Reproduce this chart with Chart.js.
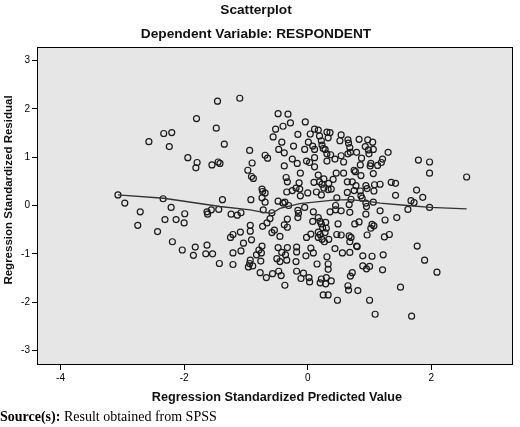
<!DOCTYPE html>
<html>
<head>
<meta charset="utf-8">
<script src="https://cdn.jsdelivr.net/npm/chart.js@4.4.0/dist/chart.umd.min.js"></script>
<style>
    html, body { margin: 0; padding: 0; background: #fff; }
    #wrap { width: 520px; height: 427px; }
</style>
</head>
<body>
<div id="wrap"><canvas id="residChart" width="520" height="427"></canvas></div>
<script>
// Values
const predicted = [
    -1.46, -1.10, -1.80, -1.48, -2.33, -2.20, -2.57, -2.24, -1.35, -1.94,
    -1.79, -1.81, -1.55, -1.45, -1.42, -0.94, -0.90, -0.69, -0.65, -0.97,
    -0.91, -0.88, -0.74, -0.73, -0.69, -0.74, -0.69, -0.92, -1.38, -3.07,
    -2.96, -2.34, -2.21, -2.71, -1.99, -1.63, -1.62, -1.56, -1.44, -1.24,
    -1.14, -1.08, -0.72, -0.58, -0.48, -0.32, -0.52, -0.40, -0.28, -0.04,
    -0.56, -0.42, -0.16, -0.23, -0.47, -0.38, -0.38, -0.25, -0.17, -0.12,
    -0.35, -0.33, -0.14, -0.19, -0.13, -0.25, -0.34, -0.48, -0.40, -0.37,
    -0.31, -0.16, -0.15, -0.05, -0.12, 0.09, 0.04, 0.11, 0.17, 0.19,
    0.31, 0.36, 0.33, 0.01, 0.08, 0.11, -0.05, 0.22, 0.23, 0.25,
    0.28, 0.31, 0.37, 0.11, -0.02, 0.03, 0.11, 0.31, 0.44, 0.54,
    0.52, 0.65, 0.66, 0.68, 0.79, 0.69, 0.65, 0.54, 0.58, 0.83,
    0.97, 1.05, 0.93, 0.98, 1.06, 0.99, 0.87, 1.30, 1.02, 1.01,
    1.21, 1.19, 1.13, 0.85, 0.75, 0.77, 0.86, 1.06, 0.58, 0.46,
    0.17, 0.26, 0.10, 0.19, 0.23, 0.34, 0.41, 0.26, 0.33, 0.38,
    0.14, 0.22, 0.47, 0.64, 0.72, 0.78, 0.75, 0.64, 0.85, 0.94,
    0.96, 1.08, 1.17, 1.07, 0.86, 0.88, 0.70, 0.67, 0.45, 0.45,
    0.36, 0.54, 0.68, 0.94, 0.95, 1.06, 1.17, 1.35, 1.42, 1.42,
    1.76, 1.86, 1.79, 1.97, 1.97, 2.57, 1.67, 1.72, 1.62, 1.97,
    0.00, -0.16, -2.75, -2.31, -2.13, -2.00, -2.43, -2.19, -2.03, -1.82,
    -1.85, -1.63, -1.65, -1.54, -1.43, -1.21, -1.21, -1.08, -1.04, -0.91,
    -1.25, -1.21, -1.09, -0.93, -0.93, -0.73, -0.66, -0.61, -0.58, -0.54,
    -0.45, -0.38, -0.33, -0.33, -0.74, -0.79, -0.75, -0.83, -0.93, -0.94,
    -0.96, -0.89, -0.76, -0.48, -0.42, -0.33, -0.36, -0.50, -0.45, -0.34,
    -0.77, -0.67, -0.57, -0.47, -0.43, -0.37, 0.08, 0.17, 0.20, 0.22,
    0.29, 0.49, 0.94, 1.44, 0.24, 0.30, 0.17, 0.20, 0.28, -0.02,
    0.05, 0.17, 0.23, 0.27, 0.34, 0.47, 0.54, 0.67, 0.70, 0.68,
    0.76, 0.83, 1.04, 1.07, 1.02, 1.25, 0.96, 1.24, 1.32, 0.79,
    0.80, 0.44, 0.56, 0.68, 0.31, 0.15, 0.33, 0.33, -0.18, -0.18,
    -0.19, 0.05, 0.09, -0.03, -0.18, -0.11, -0.07, 0.02, 0.03, 0.22,
    0.30, 0.38, 0.20, 0.29, 0.25, 0.33, 0.48, 0.65, 0.66, 0.72,
    0.69, 0.81, 0.89, 1.04, 1.22, 0.89, 0.95, 1.00, 1.21, 1.00,
    1.09, 1.50, 1.68, 1.77, 1.89, 2.09
];
const residual = [
    2.16, 2.22, 1.80, 1.60, 1.49, 1.51, 1.32, 1.22, 1.27, 0.99,
    0.89, 0.78, 0.84, 0.90, 0.87, 1.14, 0.88, 1.04, 0.98, 0.73,
    0.60, 0.56, 0.34, 0.29, 0.26, 0.16, 0.07, 0.12, 0.12, 0.22,
    0.05, 0.14, -0.04, -0.13, -0.17, -0.13, -0.18, -0.09, -0.08, -0.18,
    -0.20, -0.15, -0.09, -0.15, 1.90, 1.89, 1.58, 1.64, 1.71, 1.73,
    1.42, 1.31, 1.47, 1.23, 1.16, 1.09, 0.82, 0.96, 0.87, 0.67,
    0.58, 0.49, 0.47, 0.36, 0.34, 0.31, 0.28, 0.09, 0.05, 0.07,
    0.00, -0.10, -0.16, -0.04, 0.20, -0.13, 1.48, 1.58, 1.56, 1.44,
    1.52, 1.51, 1.40, 1.31, 1.23, 1.16, 1.16, 1.34, 1.25, 1.18,
    1.16, 1.07, 1.05, 0.99, 0.92, 0.89, 0.80, 0.92, 0.96, 1.46,
    1.34, 1.36, 1.29, 1.20, 1.10, 1.10, 1.07, 1.03, 0.90, 1.37,
    1.36, 1.31, 1.22, 1.15, 1.16, 1.07, 0.98, 1.10, 0.87, 0.82,
    0.96, 0.89, 0.83, 0.84, 0.73, 0.70, 0.62, 0.66, 0.67, 0.67,
    0.63, 0.55, 0.48, 0.49, 0.44, 0.46, 0.54, 0.36, 0.33, 0.34,
    0.28, 0.22, 0.16, 0.49, 0.49, 0.41, 0.31, 0.27, 0.30, 0.41,
    0.35, 0.43, 0.44, 0.30, 0.20, 0.15, 0.13, 0.02, 0.00, -0.09,
    -0.13, -0.11, -0.14, 0.05, -0.02, 0.07, -0.11, 0.48, 0.46, 0.21,
    0.32, 0.17, 0.94, 0.90, 0.67, 0.59, 0.10, 0.06, -0.08, -0.04,
    0.26, -0.25, -0.41, -0.29, -0.29, -0.36, -0.54, -0.75, -0.92, -0.86,
    -1.03, -0.82, -1.00, -1.00, -1.20, -1.22, -0.98, -0.94, -0.78, -0.71,
    -0.66, -0.60, -0.55, -0.53, -0.41, -0.43, -0.36, -0.27, -0.56, -0.51,
    -0.64, -0.40, -0.45, -0.28, -0.84, -0.92, -0.98, -1.02, -1.13, -1.20,
    -1.27, -1.25, -1.15, -0.87, -0.97, -0.87, -1.02, -1.10, -1.16, -1.13,
    -1.39, -1.49, -1.41, -1.36, -1.45, -1.65, -0.33, -0.25, -0.33, -0.38,
    -0.35, -0.38, -0.18, -0.25, -0.46, -0.47, -0.55, -0.60, -0.56, -0.66,
    -0.59, -0.66, -0.70, -0.75, -0.70, -0.60, -0.61, -0.63, -0.66, -0.75,
    -0.38, -0.34, -0.39, -0.42, -0.47, -0.30, -0.61, -0.65, -0.60, -0.84,
    -0.85, -0.89, -0.98, -0.97, -1.06, -1.21, -1.21, -1.32, -0.86, -0.96,
    -1.16, -0.88, -0.98, -1.04, -1.36, -1.51, -1.40, -1.49, -1.58, -1.52,
    -1.49, -1.56, -1.60, -1.62, -1.85, -1.85, -1.96, -1.66, -1.75, -1.39,
    -1.46, -1.76, -1.04, -1.05, -1.02, -1.25, -1.31, -1.26, -1.33, -1.96,
    -2.25, -1.69, -2.29, -0.84, -1.13, -1.38
];

// Loess fit line
const fitX = [-3.07, -2.33, -1.42, -0.93, -0.72, -0.58, -0.45, -0.13, 0.41, 0.68, 1.01, 1.17, 1.61, 1.98, 2.57];
const fitY = [0.22, 0.15, -0.02, -0.09, -0.14, -0.16, -0.06, 0.04, 0.11, 0.12, 0.08, 0.05, 0.00, -0.04, -0.07];

const xTicks = [-4, -2, 0, 2];
const yTicks = [-3, -2, -1, 0, 1, 2, 3];

const chartTitle = 'Scatterplot';
const chartSubtitle = 'Dependent Variable: RESPONDENT';
const xTitle = 'Regression Standardized Predicted Value';
const yTitle = 'Regression Standardized Residual';
const sourceLabel = 'Source(s):';
const sourceText = ' Result obtained from SPSS';

const sansFont = '"Liberation Sans", Arial, sans-serif';
const serifFont = '"Liberation Serif", "Times New Roman", serif';

// background, frame and the text around the plot
const spssFrame = {
    id: 'spssFrame',
    beforeDraw(chart) {
        const { ctx, chartArea: a } = chart;
        ctx.save();
        ctx.fillStyle = '#e6e6e6';
        ctx.fillRect(a.left, a.top, a.right - a.left, a.bottom - a.top);
        ctx.restore();
    },
    afterDraw(chart) {
        const { ctx, chartArea: a } = chart;
        ctx.save();
        ctx.strokeStyle = '#000';
        ctx.lineWidth = 1;
        ctx.strokeRect(Math.round(a.left) + 0.5, Math.round(a.top) + 0.5,
            Math.round(a.right - a.left) - 1, Math.round(a.bottom - a.top) - 1);

        ctx.fillStyle = '#111';
        ctx.textAlign = 'center';
        ctx.textBaseline = 'alphabetic';
        ctx.font = 'bold 13.7px ' + sansFont;
        ctx.fillText(chartTitle, 256, 14);
        ctx.fillText(chartSubtitle, 256, 38);

        ctx.font = 'bold 12.7px ' + sansFont;
        ctx.fillText(xTitle, 277, 401);

        ctx.save();
        ctx.translate(12, 190);
        ctx.rotate(-Math.PI / 2);
        ctx.font = 'bold 11.5px ' + sansFont;
        ctx.fillText(yTitle, 0, 0);
        ctx.restore();

        ctx.textAlign = 'left';
        ctx.fillStyle = '#000';
        ctx.font = 'bold 14px ' + serifFont;
        ctx.fillText(sourceLabel, 0, 421);
        const w = ctx.measureText(sourceLabel).width;
        ctx.font = '14px ' + serifFont;
        ctx.fillText(sourceText, w, 421);
        ctx.restore();
    }
};

document.addEventListener('DOMContentLoaded', () => {
    const ctx = document.getElementById('residChart').getContext('2d');
    const points = predicted.map((x, i) => ({ x: x, y: residual[i] }));
    const fit = fitX.map((x, i) => ({ x: x, y: fitY[i] }));

    const axisStyle = {
        type: 'linear',
        grid: { drawOnChartArea: false, drawTicks: true, tickLength: 5, color: '#000', lineWidth: 1 },
        border: { display: false },
        ticks: { color: '#000', font: { family: sansFont, size: 10 }, padding: 2, maxRotation: 0 }
    };

    new Chart(ctx, {
        type: 'scatter',
        data: {
            datasets: [
                {
                    label: 'Fit',
                    type: 'line',
                    data: fit,
                    showLine: true,
                    pointRadius: 0,
                    borderColor: '#333',
                    borderWidth: 1.3,
                    tension: 0,
                    fill: false
                },
                {
                    label: 'Residuals',
                    data: points,
                    pointStyle: 'circle',
                    pointRadius: 3,
                    borderColor: '#1a1a1a',
                    borderWidth: 1.2,
                    backgroundColor: 'rgba(0,0,0,0)'
                }
            ]
        },
        options: {
            responsive: false,
            animation: false,
            devicePixelRatio: 1,
            layout: { padding: { top: 47, right: 7, left: 0, bottom: 0 } },
            plugins: {
                legend: { display: false },
                tooltip: { enabled: false }
            },
            scales: {
                x: {
                    ...axisStyle,
                    min: -4.38,
                    max: 3.32,
                    afterBuildTicks: axis => { axis.ticks = xTicks.map(v => ({ value: v })); },
                    afterFit: scale => { scale.height = 62; }
                },
                y: {
                    ...axisStyle,
                    min: -3.30,
                    max: 3.28,
                    afterBuildTicks: axis => { axis.ticks = yTicks.map(v => ({ value: v })); },
                    afterFit: scale => { scale.width = 37; }
                }
            }
        },
        plugins: [spssFrame]
    });
});
</script>
</body>
</html>
